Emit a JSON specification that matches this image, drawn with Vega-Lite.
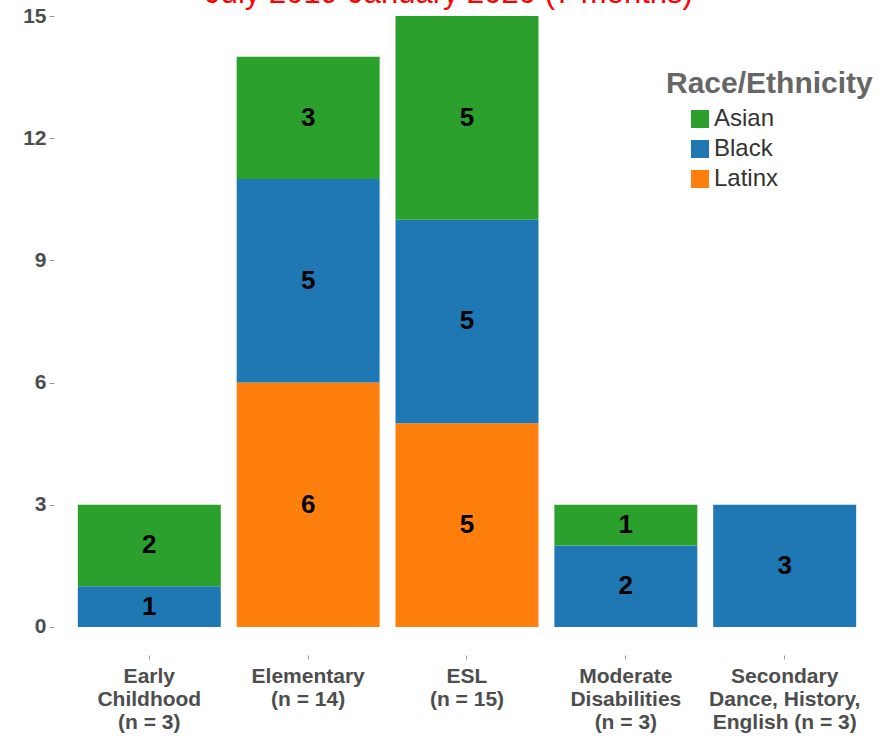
{
  "$schema": "https://vega.github.io/schema/vega-lite/v6.json",
  "autosize": "none",
  "padding": {"left": 54, "top": 16, "right": 8, "bottom": 81},
  "width": 826,
  "height": 639,
  "background": "white",
  "config": {
    "view": {"stroke": null},
    "font": "Liberation Sans"
  },
  "title": {
    "text": "July 2019-January 2020 (7 months)",
    "color": "#ff0000",
    "fontSize": 31,
    "fontWeight": "normal",
    "font": "Liberation Sans",
    "anchor": "middle",
    "baseline": "bottom",
    "offset": -36,
    "dx": -18
  },
  "data": {
    "values": [
      {"category": "Early\nChildhood\n(n = 3)", "race": "Black", "count": 1},
      {"category": "Early\nChildhood\n(n = 3)", "race": "Asian", "count": 2},
      {"category": "Elementary\n(n = 14)", "race": "Latinx", "count": 6},
      {"category": "Elementary\n(n = 14)", "race": "Black", "count": 5},
      {"category": "Elementary\n(n = 14)", "race": "Asian", "count": 3},
      {"category": "ESL\n(n = 15)", "race": "Latinx", "count": 5},
      {"category": "ESL\n(n = 15)", "race": "Black", "count": 5},
      {"category": "ESL\n(n = 15)", "race": "Asian", "count": 5},
      {"category": "Moderate\nDisabilities\n(n = 3)", "race": "Black", "count": 2},
      {"category": "Moderate\nDisabilities\n(n = 3)", "race": "Asian", "count": 1},
      {"category": "Secondary\nDance, History,\nEnglish (n = 3)", "race": "Black", "count": 3}
    ]
  },
  "encoding": {
    "x": {
      "field": "category",
      "type": "nominal",
      "sort": null,
      "scale": {"paddingInner": 0.1, "paddingOuter": 0.15},
      "axis": {
        "title": null,
        "labelAngle": 0,
        "labelExpr": "split(datum.value, '\\n')",
        "labelFontSize": 21,
        "labelFontWeight": "bold",
        "labelColor": "#4d4d4d",
        "labelLineHeight": 23,
        "labelBaseline": "top",
        "labelPadding": 6,
        "labelLimit": 300,
        "tickSize": 4,
        "tickColor": "#999999",
        "domain": false
      }
    },
    "y": {
      "field": "count",
      "type": "quantitative",
      "stack": "zero",
      "scale": {"domain": [-0.69, 15], "nice": false, "zero": false},
      "axis": {
        "title": null,
        "values": [0, 3, 6, 9, 12, 15],
        "grid": false,
        "domain": false,
        "labelFontSize": 21,
        "labelFontWeight": "bold",
        "labelColor": "#4d4d4d",
        "labelPadding": 3,
        "tickSize": 5,
        "tickColor": "#999999"
      }
    },
    "order": {"field": "race", "sort": "descending"}
  },
  "layer": [
    {
      "mark": {"type": "bar"},
      "encoding": {
        "color": {
          "field": "race",
          "type": "nominal",
          "scale": {"domain": ["Asian", "Black", "Latinx"], "range": ["#2ca02c", "#1f77b4", "#ff7f0e"]},
          "legend": {
            "title": "Race/Ethnicity",
            "orient": "none",
            "legendX": 612,
            "legendY": 53,
            "titleFontSize": 30,
            "titleFontWeight": "bold",
            "titleColor": "#666666",
            "titleLimit": 400,
            "titlePadding": 8,
            "labelFontSize": 24,
            "labelColor": "#333333",
            "labelLimit": 300,
            "symbolType": "square",
            "symbolSize": 324,
            "symbolStrokeWidth": 0,
            "symbolOpacity": 1,
            "symbolOffset": 22,
            "rowPadding": 6,
            "labelOffset": 2
          }
        }
      }
    },
    {
      "mark": {"type": "text", "fontSize": 26, "fontWeight": "bold", "color": "black"},
      "encoding": {
        "y": {"field": "count", "type": "quantitative", "stack": "zero", "bandPosition": 0.5},
        "text": {"field": "count", "type": "quantitative"}
      }
    }
  ]
}
